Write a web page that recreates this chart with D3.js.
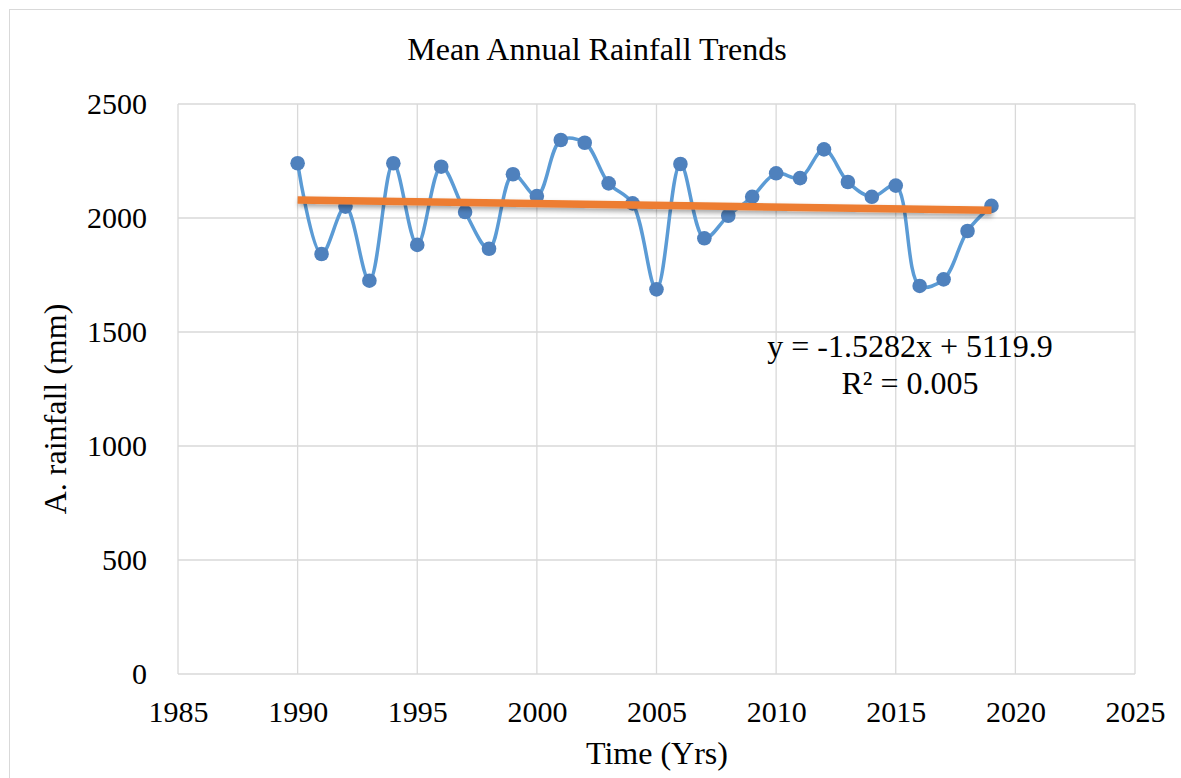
<!DOCTYPE html>
<html>
<head>
<meta charset="utf-8">
<script src="https://cdn.jsdelivr.net/npm/d3@7"></script>
<style>
  html, body { margin: 0; padding: 0; background: #fff; }
  svg { display: block; }
  svg text { font-family: "Liberation Serif", "Times New Roman", serif; fill: #000; }
</style>
</head>
<body>
<svg id="chart" width="1181" height="778"></svg>
<script>
// ── data ──────────────────────────────────────
const years = [1990,1991,1992,1993,1994,1995,1996,1997,1998,1999,
               2000,2001,2002,2003,2004,2005,2006,2007,2008,2009,
               2010,2011,2012,2013,2014,2015,2016,2017,2018,2019];
const rainfall = [2240,1842,2050,1725,2240,1882,2225,2026,1865,2192,
                  2096,2342,2330,2152,2064,1687,2237,1911,2010,2093,
                  2196,2175,2301,2158,2093,2142,1702,1731,1943,2053];
const xTicks = [1985,1990,1995,2000,2005,2010,2015,2020,2025];
const yTicks = [0,500,1000,1500,2000,2500];
const trendSlope = -1.5282, trendIntercept = 5119.9;
const trendLabel = ["y = -1.5282x + 5119.9", "R² = 0.005"];

// ── layout ────────────────────────────────────
const W = 1181, H = 778;
const plot = { left: 178, right: 1135, top: 104, bottom: 674 };

const svg = d3.select("#chart");

// chart frame
svg.append("rect")
  .attr("x", 9.5).attr("y", 9.5)
  .attr("width", W + 20).attr("height", H + 20)
  .attr("fill", "#fff").attr("stroke", "#d9d9d9").attr("stroke-width", 1);

const x = d3.scaleLinear().domain([1985, 2025]).range([plot.left, plot.right]);
const y = d3.scaleLinear().domain([0, 2500]).range([plot.bottom, plot.top]);

// gridlines
svg.append("g").selectAll("line.vg")
  .data(xTicks)
  .join("line")
    .attr("x1", d => x(d)).attr("x2", d => x(d))
    .attr("y1", plot.top).attr("y2", plot.bottom)
    .attr("stroke", "#d9d9d9").attr("stroke-width", 1.3);
svg.append("g").selectAll("line.hg")
  .data(yTicks)
  .join("line")
    .attr("x1", plot.left).attr("x2", plot.right)
    .attr("y1", d => y(d)).attr("y2", d => y(d))
    .attr("stroke", "#d9d9d9").attr("stroke-width", 1.3);

// axes (labels only, Excel style)
const xAxis = svg.append("g")
  .attr("transform", `translate(0,${plot.bottom})`)
  .call(d3.axisBottom(x).tickValues(xTicks).tickFormat(d3.format("d")).tickSize(0).tickPadding(27));
const yAxis = svg.append("g")
  .attr("transform", `translate(${plot.left},0)`)
  .call(d3.axisLeft(y).tickValues(yTicks).tickFormat(d3.format("d")).tickSize(0).tickPadding(31));
[xAxis, yAxis].forEach(a => {
  a.attr("font-family", null).attr("font-size", null);
  a.select(".domain").remove();
  a.selectAll("text").style("font-size", "30px");
});

// title + axis titles
svg.append("text")
  .attr("x", 597).attr("y", 60)
  .attr("text-anchor", "middle").style("font-size", "32px")
  .text("Mean Annual Rainfall Trends");
svg.append("text")
  .attr("x", 657).attr("y", 764)
  .attr("text-anchor", "middle").style("font-size", "32px")
  .text("Time (Yrs)");
svg.append("text")
  .attr("transform", "translate(66,409) rotate(-90)")
  .attr("text-anchor", "middle").style("font-size", "32px")
  .text("A. rainfall (mm)");

// data series (smoothed)
const pts = years.map((yr, i) => [yr, rainfall[i]]);
const line = d3.line()
  .x(d => x(d[0])).y(d => y(d[1]))
  .curve(d3.curveCatmullRom.alpha(0.5));

svg.append("path")
  .datum(pts)
  .attr("d", line)
  .attr("fill", "none")
  .attr("stroke", "#5b9bd5").attr("stroke-width", 3.5)
  .attr("stroke-linejoin", "round");

svg.append("g").selectAll("circle")
  .data(pts)
  .join("circle")
    .attr("cx", d => x(d[0])).attr("cy", d => y(d[1]))
    .attr("r", 7.3)
    .attr("fill", "#4f81bd");

// trendline with soft shadow
const defs = svg.append("defs");
const f = defs.append("filter").attr("id", "shadow")
  .attr("x", "-5%").attr("y", "-200%").attr("width", "110%").attr("height", "500%");
f.append("feDropShadow")
  .attr("dx", 1).attr("dy", 3).attr("stdDeviation", 2.5)
  .attr("flood-color", "#000").attr("flood-opacity", 0.35);

const trendYears = [years[0], years[years.length - 1]];
svg.append("path")
  .datum(trendYears.map(yr => [yr, trendSlope * yr + trendIntercept]))
  .attr("d", d3.line().x(d => x(d[0])).y(d => y(d[1])))
  .attr("fill", "none")
  .attr("stroke", "#ed7d31").attr("stroke-width", 7.5)
  .attr("filter", "url(#shadow)");

// trendline equation
svg.append("g").selectAll("text")
  .data(trendLabel)
  .join("text")
    .attr("x", 910).attr("y", (d, i) => 357 + i * 37)
    .attr("text-anchor", "middle").style("font-size", "32px")
    .text(d => d);
</script>
</body>
</html>
